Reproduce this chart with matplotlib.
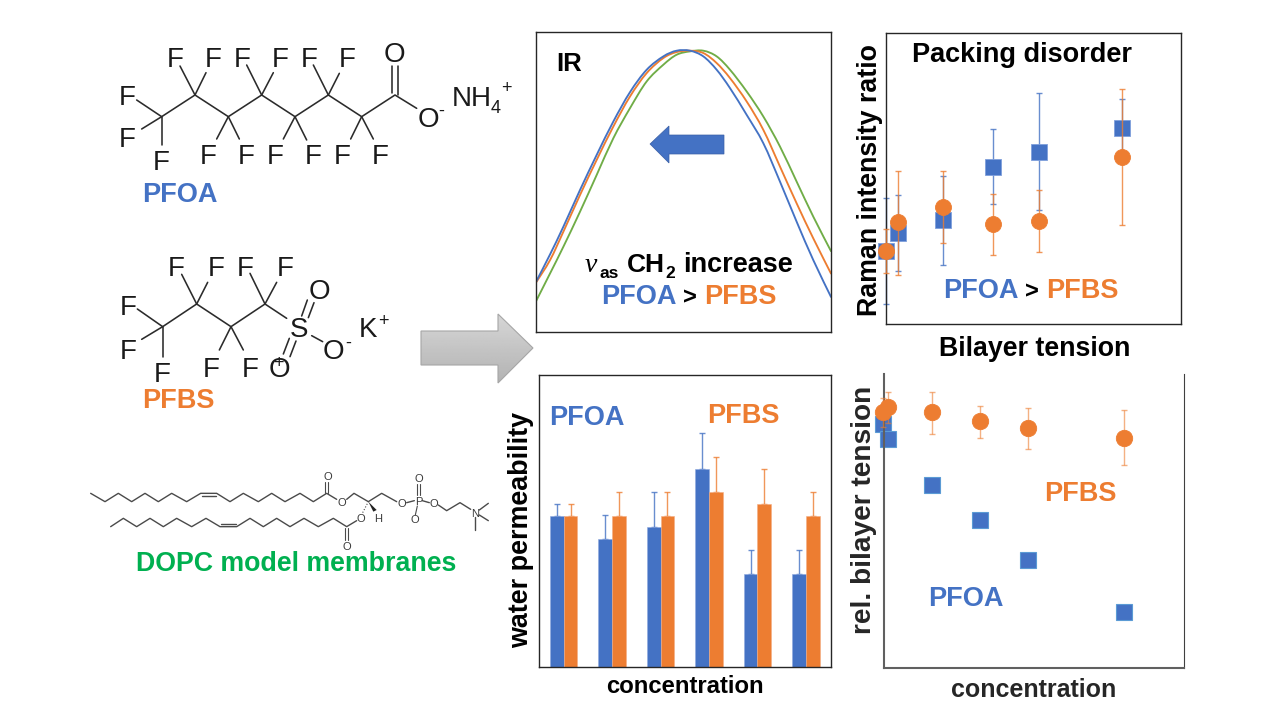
import numpy as np
import matplotlib
matplotlib.use("Agg")
import matplotlib.pyplot as plt
from matplotlib.patches import Polygon, PathPatch
from matplotlib.path import Path

plt.rcParams['font.family'] = ['Liberation Sans', 'DejaVu Sans']

BLUE, ORANGE, GREEN, DARK = '#4472C4', '#ED7D31', '#70AD47', '#00B050'
W, H = 1280, 720

# ---------- data ----------
ir_x = [18, 60, 100, 150, 200, 250, 300, 350, 400, 440, 480, 520, 560, 600, 650, 700, 750, 800, 850, 903]
ir_pfoa = [150, 232, 315, 425, 530, 630, 718, 785, 825, 842, 842, 825, 785, 730, 650, 565, 450, 330, 215, 105]
ir_pfbs = [148, 215, 300, 410, 515, 615, 705, 775, 820, 838, 842, 835, 805, 760, 690, 605, 495, 385, 280, 175]
ir_ctrl = [92, 175, 255, 360, 470, 580, 670, 750, 800, 830, 840, 842, 825, 785, 720, 645, 555, 450, 345, 242]

conc_raman = [0, 5, 24, 45.5, 64.8, 100]
raman_pfoa = [25.1, 31.1, 35.7, 54.0, 59.2, 67.4]
raman_pfbs = [25.1, 35.1, 40.3, 34.2, 35.4, 57.4]
raman_pfoa_lo = [6.9, 18.3, 20.3, 41.1, 39.1, 57.4]
raman_pfoa_hi = [43.4, 44.3, 50.8, 66.9, 79.3, 77.2]
raman_pfbs_lo = [17.4, 16.8, 27.7, 23.6, 24.6, 33.9]
raman_pfbs_hi = [32.7, 52.6, 52.6, 44.6, 45.9, 80.8]

groups = [0, 1, 2, 3, 4, 5]
perm_pfoa = [51.8, 43.8, 47.8, 67.7, 31.9, 31.9]
perm_pfbs = [51.8, 51.8, 51.8, 59.8, 55.8, 51.8]
perm_pfoa_hi = [55.9, 52.0, 59.9, 80.1, 40.0, 40.0]
perm_pfbs_hi = [55.9, 59.9, 59.9, 71.8, 67.8, 59.9]

conc_tension = [0, 2.1, 20.2, 40.1, 60, 100]
tens_pfoa = [82.9, 77.8, 62.1, 50.4, 36.7, 19.0]
tens_pfbs = [87.2, 88.7, 87.0, 83.9, 81.7, 78.4]
tens_pfbs_lo = [82.0, 83.2, 79.6, 78.4, 74.5, 69.1]
tens_pfbs_hi = [92.0, 94.0, 94.0, 89.1, 88.6, 87.8]

fig = plt.figure(figsize=(12.8, 7.2), dpi=100, facecolor='white')


def box(l, t, r, b):
    ax = fig.add_axes([l / W, 1 - b / H, (r - l) / W, (b - t) / H])
    ax.set_xticks([])
    ax.set_yticks([])
    return ax


def xlab(ax, box_px, s, x, y, size, color='black'):
    l, t, r, b = box_px
    ax.set_xlabel(s, fontsize=size, fontweight='bold', color=color, va='baseline', ha='center')
    ax.xaxis.set_label_coords((x - l) / (r - l), (b - y) / (b - t))


def ylab(ax, box_px, s, x, y, size, color='black'):
    l, t, r, b = box_px
    ax.set_ylabel(s, fontsize=size, fontweight='bold', color=color, va='center', ha='center')
    ax.yaxis.set_label_coords((x - l) / (r - l), (b - y) / (b - t))


def spines(ax, color, lw):
    for s in ax.spines.values():
        s.set_color(color)
        s.set_linewidth(lw)


def werr(ax, x, y, lo, hi, color, marker, ms, z, edge=None, cap=2.2, alpha=0.8):
    yerr = [np.array(y) - np.array(lo), np.array(hi) - np.array(y)]
    ec = ax.errorbar(x, y, yerr=yerr, fmt='none', ecolor=color, elinewidth=1.0, capsize=cap,
                     capthick=1.0, alpha=alpha, zorder=z)
    for part in ec.lines:
        for art in (part if isinstance(part, tuple) else [part]):
            if art is not None:
                art.set_clip_on(False)
    return ax.plot(x, y, ls='none', marker=marker, ms=ms, mfc=color, mec=edge or color, mew=0.6,
                   zorder=z + 1, clip_on=False)


def smooth_line(ax, xs, ys, color):
    """Draw the read points as a smooth Bezier line, like the original's smoothed series."""
    p = np.column_stack([xs, ys]).astype(float)
    verts, codes = [p[0]], [Path.MOVETO]
    for i in range(len(p) - 1):
        p0 = p[max(i - 1, 0)]
        p1, p2 = p[i], p[i + 1]
        p3 = p[min(i + 2, len(p) - 1)]
        verts += [p1 + (p2 - p0) / 6, p2 - (p3 - p1) / 6, p2]
        codes += [Path.CURVE4] * 3
    ax.add_patch(PathPatch(Path(verts, codes), fc='none', ec=color, lw=1.35, capstyle='round'))


# ---------- IR ----------
b_ir = (536, 32, 831, 332)
ax = box(*b_ir)
spines(ax, '#262626', 1.0)
smooth_line(ax, ir_x, ir_ctrl, GREEN)
smooth_line(ax, ir_x, ir_pfbs, ORANGE)
smooth_line(ax, ir_x, ir_pfoa, BLUE)
ax.set_xlim(18, 903)
ax.set_ylim(0, 898)

# ---------- Raman ----------
b_ra = (886, 33, 1181, 324)
ax = box(*b_ra)
spines(ax, '#262626', 1.0)
werr(ax, conc_raman, raman_pfoa, raman_pfoa_lo, raman_pfoa_hi, BLUE, 's', 11, 2, edge='#7F9FDC')
werr(ax, conc_raman, raman_pfbs, raman_pfbs_lo, raman_pfbs_hi, ORANGE, 'o', 11.5, 4)
ax.set_xlim(0, 125)
ax.set_ylim(0, 100)
xlab(ax, b_ra, 'Bilayer tension', 1034.5, 356, 19.3)
ylab(ax, b_ra, 'Raman intensity ratio', 870, 180, 19.3)

# ---------- permeability ----------
b_pe = (539, 375, 831, 667)
ax = box(*b_pe)
spines(ax, '#262626', 1.0)
bw = 0.283
gx = np.array(groups, float)
ax.bar(gx - bw / 2, perm_pfoa, bw, color=BLUE, edgecolor='#8FA9DE', linewidth=0.4, zorder=2)
ax.bar(gx + bw / 2, perm_pfbs, bw, color=ORANGE, edgecolor='#F4AE85', linewidth=0.4, zorder=2)
ax.errorbar(gx - bw / 2, perm_pfoa, yerr=[np.zeros(6), np.array(perm_pfoa_hi) - np.array(perm_pfoa)],
            fmt='none', ecolor=BLUE, elinewidth=1.0, capsize=2.2, capthick=1.0, alpha=0.8, zorder=1)
ax.errorbar(gx + bw / 2, perm_pfbs, yerr=[np.zeros(6), np.array(perm_pfbs_hi) - np.array(perm_pfbs)],
            fmt='none', ecolor=ORANGE, elinewidth=1.0, capsize=2.2, capthick=1.0, alpha=0.8, zorder=1)
ax.set_xlim(-0.51, 5.52)
ax.set_ylim(0, 100)
xlab(ax, b_pe, 'concentration', 684.5, 693, 17.2)
ylab(ax, b_pe, 'water permeability', 521, 529.5, 19.4)

# ---------- tension ----------
b_te = (884, 374, 1184, 668)
ax = box(*b_te)
ax.spines['top'].set_visible(False)
ax.spines['left'].set_color('#606060')
ax.spines['left'].set_linewidth(1.5)
ax.spines['bottom'].set_color('#606060')
ax.spines['bottom'].set_linewidth(1.5)
ax.spines['right'].set_color('#404040')
ax.spines['right'].set_linewidth(0.8)
ax.plot(conc_tension, tens_pfoa, ls='none', marker='s', ms=11.2, mfc=BLUE, mec='#5B9BD5', mew=0.8,
        clip_on=False, zorder=2)
werr(ax, conc_tension, tens_pfbs, tens_pfbs_lo, tens_pfbs_hi, ORANGE, 'o', 11.8, 4, alpha=0.6, cap=2.4)
ax.set_xlim(0.3, 124.9)
ax.set_ylim(0, 100)
xlab(ax, b_te, 'concentration', 1034, 697, 18, '#262626')
ylab(ax, b_te, 'rel. bilayer tension', 864, 510, 20.2, '#262626')

# ---------- overlay: pictures and annotations ----------
ov = fig.add_axes([0, 0, 1, 1], zorder=10)
ov.set_xlim(0, W)
ov.set_ylim(H, 0)
ov.axis('off')
ov.patch.set_alpha(0)


def tx(x, y, s, color='black', size=19.5, ha='left', weight='bold', **kw):
    ov.text(x, y, s, color=color, fontsize=size, ha=ha, va='baseline', fontweight=weight, **kw)


# gradient block arrow
arrow_pts = [(421, 331), (498, 331), (498, 314), (533, 348), (498, 383), (498, 365), (421, 365)]
poly = Polygon(arrow_pts, closed=True, fc='none', ec='#A6A6A6', lw=0.8, zorder=3)
ov.add_patch(poly)
grad = np.linspace(0.84, 0.70, 64).reshape(-1, 1)
im = ov.imshow(grad, extent=(421, 533, 383, 314), cmap='gray', vmin=0, vmax=1, aspect='auto', zorder=2)
im.set_clip_path(Polygon(arrow_pts, closed=True, transform=ov.transData))
ov.set_xlim(0, W)
ov.set_ylim(H, 0)

# blue IR arrow
ov.add_patch(Polygon([(650, 144), (669, 126), (669, 135), (724, 135), (724, 154), (669, 154), (669, 163)],
                     closed=True, fc=BLUE, ec='#3A5FA5', lw=0.5))

# IR texts
tx(556, 71, 'IR', size=18.5)
ov.text(585, 272, '\u03bd', fontsize=20, style='italic', family='Liberation Serif', color='black', va='baseline')
tx(599, 278, 'as', size=12.5)
tx(627, 272, 'CH', size=19)
tx(665, 278, '2', size=12.5)
tx(683, 272, 'increase', size=19.5)
tx(601, 304, 'PFOA', BLUE)
tx(683, 304, '>', size=17)
tx(704, 304, 'PFBS', ORANGE)

# Raman texts
tx(912, 62, 'Packing disorder', size=19.5)
tx(943, 298, 'PFOA', BLUE)
tx(1025, 298, '>', size=17)
tx(1046, 298, 'PFBS', ORANGE)

# Bar / tension texts
tx(549, 425, 'PFOA', BLUE)
tx(707, 423, 'PFBS', ORANGE)
tx(1044, 501, 'PFBS', ORANGE)
tx(928, 606, 'PFOA', BLUE)

# Compound names
tx(142, 202, 'PFOA', BLUE)
tx(142, 408, 'PFBS', ORANGE)
tx(136, 571, 'DOPC model membranes', DARK, size=19.3)

LC = '#2B2B2B'


def seg(origin, scale, pts, lw=1.15, color=LC, **kw):
    x = [origin[0] + p[0] / scale for p in pts]
    y = [origin[1] + p[1] / scale for p in pts]
    ov.plot(x, y, color=color, lw=lw, solid_capstyle='round', solid_joinstyle='round', **kw)


def atom(origin, scale, p, s, size=20, color='#1A1A1A'):
    ov.text(origin[0] + p[0] / scale, origin[1] + p[1] / scale, s, fontsize=size, color=color,
            ha='center', va='center_baseline')


# PFOA structure
o1 = (100, 30)
seg(o1, 3, [(185, 260), (285, 195), (385, 260), (485, 195), (585, 260), (685, 195), (785, 260), (885, 195), (950, 235)])
for b in [((185, 260), (110, 210)), ((185, 260), (125, 297)), ((185, 260), (185, 345)),
          ((285, 195), (240, 108)), ((285, 195), (318, 128)), ((385, 260), (350, 327)), ((385, 260), (418, 327)),
          ((485, 195), (440, 105)), ((485, 195), (520, 128)), ((585, 260), (550, 327)), ((585, 260), (620, 330)),
          ((685, 195), (640, 105)), ((685, 195), (718, 130)), ((785, 260), (752, 327)), ((785, 260), (820, 327)),
          ((877, 190), (877, 108)), ((893, 195), (893, 108))]:
    seg(o1, 3, b)
for p in [(82, 195), (82, 322), (183, 390), (225, 82), (340, 82), (325, 372), (440, 372), (427, 82), (542, 82),
          (527, 372), (640, 372), (628, 82), (742, 82), (727, 372), (842, 372)]:
    atom(o1, 3, p, 'F')
atom(o1, 3, (883, 65), 'O')
atom(o1, 3, (985, 262), 'O')
atom(o1, 3, (1025, 238), '-', 13)
atom(o1, 3, (1114, 197), 'NH')
atom(o1, 3, (1187, 230), '4', 13)
atom(o1, 3, (1220, 170), '+', 13)

# PFBS structure
o2 = (100, 240)
seg(o2, 3, [(188, 260), (290, 192), (393, 260), (495, 192), (560, 235)])
for b in [((188, 260), (112, 207)), ((188, 260), (125, 298)), ((188, 260), (188, 350)),
          ((290, 192), (245, 103)), ((290, 192), (323, 127)), ((393, 260), (358, 330)), ((393, 260), (430, 330)),
          ((495, 192), (450, 100)), ((495, 192), (530, 127)),
          ((605, 228), (622, 180)), ((625, 233), (642, 188)),
          ((568, 295), (550, 342)), ((588, 303), (570, 350)),
          ((635, 287), (668, 305))]:
    seg(o2, 3, b)
for p in [(85, 195), (85, 327), (188, 395), (230, 78), (350, 78), (333, 380), (450, 380), (437, 78), (555, 78)]:
    atom(o2, 3, p, 'F')
atom(o2, 3, (597, 262), 'S')
atom(o2, 3, (657, 147), 'O')
atom(o2, 3, (538, 380), 'O')
atom(o2, 3, (535, 365), '+', 13)
atom(o2, 3, (700, 328), 'O')
atom(o2, 3, (745, 305), '-', 13)
atom(o2, 3, (805, 262), 'K')
atom(o2, 3, (850, 237), '+', 13)

# DOPC structure
o3 = (80, 460)
GC = '#4A4A4A'
LW = 1.0
seg(o3, 3, [(32, 100), (75, 125), (115, 100), (155, 125), (195, 100), (235, 125), (275, 100), (320, 125), (362, 100),
            (410, 100), (450, 125), (490, 100), (535, 125), (575, 100), (615, 125), (660, 100), (700, 125), (740, 100),
            (770, 118)], lw=LW, color=GC)
seg(o3, 3, [(365, 108), (407, 108)], lw=LW, color=GC)
seg(o3, 3, [(735, 100), (735, 65)], lw=0.8, color=GC)
seg(o3, 3, [(745, 100), (745, 65)], lw=0.8, color=GC)
seg(o3, 3, [(800, 118), (822, 100), (865, 125), (905, 100), (950, 125)], lw=LW, color=GC)
seg(o3, 3, [(980, 128), (1003, 122)], lw=LW, color=GC)
seg(o3, 3, [(1027, 122), (1048, 128)], lw=LW, color=GC)
seg(o3, 3, [(1010, 105), (1010, 72)], lw=0.8, color=GC)
seg(o3, 3, [(1020, 105), (1020, 72)], lw=0.8, color=GC)
seg(o3, 3, [(1012, 138), (1006, 165)], lw=0.8, color=GC)
seg(o3, 3, [(1075, 135), (1100, 152), (1140, 128), (1172, 148)], lw=LW, color=GC)
seg(o3, 3, [(1198, 150), (1225, 130)], lw=LW, color=GC)
seg(o3, 3, [(1198, 165), (1225, 182)], lw=LW, color=GC)
seg(o3, 3, [(1185, 170), (1185, 210)], lw=LW, color=GC)
seg(o3, 3, [(92, 200), (130, 175), (170, 200), (210, 175), (250, 200), (290, 175), (335, 200), (378, 175), (420, 200),
            (470, 200), (510, 175), (550, 200), (590, 175), (630, 200), (672, 175), (715, 200), (760, 175), (800, 200),
            (830, 182)], lw=LW, color=GC)
seg(o3, 3, [(423, 192), (467, 192)], lw=LW, color=GC)
seg(o3, 3, [(795, 205), (795, 240)], lw=0.8, color=GC)
seg(o3, 3, [(805, 205), (805, 240)], lw=0.8, color=GC)
seg(o3, 3, [(848, 158), (865, 125)], lw=0.8, color=GC, ls=':')
ov.add_patch(Polygon([(o3[0] + 865 / 3, o3[1] + 125 / 3), (o3[0] + 880 / 3, o3[1] + 155 / 3),
                      (o3[0] + 890 / 3, o3[1] + 150 / 3)], closed=True, fc='#222222', ec='none'))
for p, s in [((742, 47), 'O'), ((785, 125), 'O'), ((965, 130), 'O'), ((1015, 122), 'P'), ((1015, 55), 'O'),
             ((1060, 130), 'O'), ((1005, 178), 'O'), ((1185, 158), 'N'), ((843, 175), 'O'), ((800, 257), 'O'),
             ((895, 175), 'H')]:
    atom(o3, 3, p, s, size=8, color='#3A3A3A')

fig.savefig('out.png', dpi=100, facecolor='white')
